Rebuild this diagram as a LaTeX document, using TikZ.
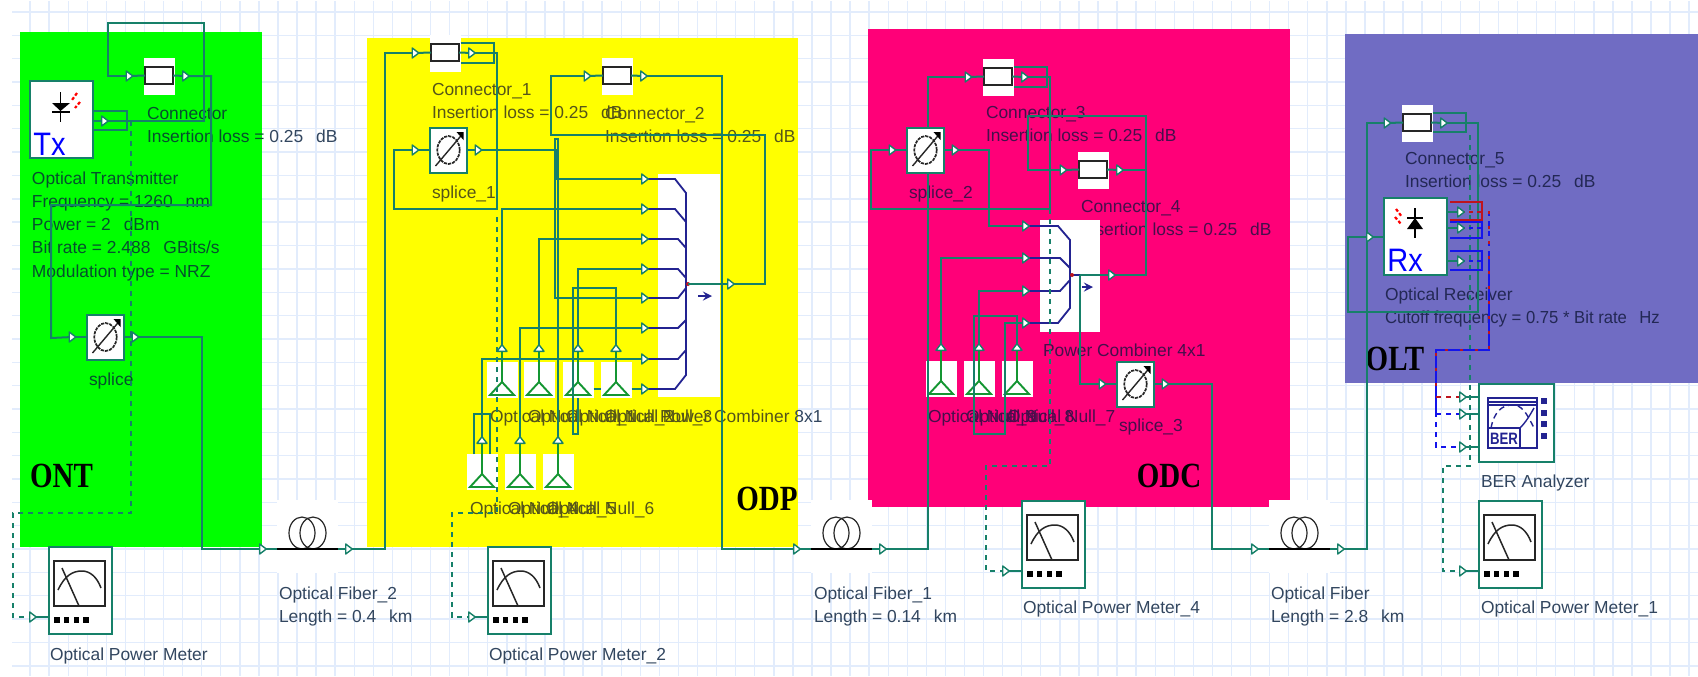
\documentclass[tikz,border=0pt]{standalone}
\usepackage{fontspec}
\setmainfont{Liberation Sans}
\newfontfamily\lserif{Liberation Serif}
\usetikzlibrary{calc}
\definecolor{teall}{RGB}{22,128,105}
\definecolor{nullg}{RGB}{20,150,50}
\definecolor{navyb}{RGB}{35,35,145}
\definecolor{gridc}{RGB}{226,236,252}
\definecolor{odcm}{RGB}{255,0,120}
\definecolor{oltp}{RGB}{112,108,195}
\definecolor{ontg}{RGB}{0,255,0}
\definecolor{odpy}{RGB}{255,255,0}
\definecolor{redd}{RGB}{190,20,30}
\definecolor{blued}{RGB}{20,20,235}
\definecolor{tg}{RGB}{5,80,45}
\definecolor{ty}{RGB}{85,85,25}
\definecolor{tm}{RGB}{70,15,75}
\definecolor{tp}{RGB}{35,40,85}
\definecolor{tw}{RGB}{50,70,95}
\newcommand{\gp}{\hspace{6.5pt}}
\pgfdeclarelayer{bg}\pgfdeclarelayer{wirel}\pgfsetlayers{bg,wirel,main}
\tikzset{
 wire/.style={draw=teall,line width=1pt},
 dashwire/.style={draw=teall,line width=.9pt,dash pattern=on 2.6pt off 2.4pt},
 portsh/.style={draw=teall,fill=white,line width=.7pt,line join=round},
 blank/.style={fill=white,draw=none,inner sep=0pt,outer sep=0pt},
 comp/.style={fill=white,draw=teall,line width=1pt,inner sep=0pt,outer sep=0pt},
 connrect/.style={fill=white,draw=black!85,line width=1.1pt,inner sep=0pt,outer sep=0pt,minimum width=14pt,minimum height=8.5pt},
 lab/.style={anchor=north west,inner sep=0pt,outer sep=0pt,align=left,font=\fontsize{8.7}{11.6}\selectfont},
 zone/.style={anchor=center,inner sep=0pt,text=black,font=\lserif\bfseries\fontsize{14.5}{16}\selectfont},
 combl/.style={draw=navyb,line width=.9pt},
 nullt/.style={draw=nullg,line width=.95pt},
}
\newcommand{\oPortR}[3]{\coordinate (#1) at (#2,#3);
 \draw[portsh] ([shift={(-3.3,-5)}]#1) -- ([shift={(3.3,0)}]#1) -- ([shift={(-3.3,5)}]#1) -- cycle;}
\newcommand{\oPortU}[3]{\coordinate (#1) at (#2,#3);
 \draw[portsh] ([shift={(-5,3.3)}]#1) -- ([shift={(0,-3.3)}]#1) -- ([shift={(5,3.3)}]#1) -- cycle;}
\newcommand{\oLbl}[5]{\node[lab,text=#4] (#1) at (#2,{#3-10}) {\strut #5};}
\newcommand{\oConn}[3]{%
 \begin{pgfonlayer}{bg}
 \node[blank,minimum width=15.5pt,minimum height=18.5pt] (#1-b) at (#2,#3) {};
 \node[connrect] (#1) at (#2,{#3-.5}) {};
 \end{pgfonlayer}
 \oPortR{#1-in}{#2-29.5}{#3}\oPortR{#1-out}{#2+27}{#3}
 \begin{pgfonlayer}{wirel}\draw[wire] (#1-in) -- (#1.west); \draw[wire] (#1.east) -- (#1-out);\end{pgfonlayer}}
\newcommand{\oSplice}[3]{%
 \node[comp,minimum width=18.5pt,minimum height=22.5pt] (#1) at (#2,#3) {};
 \draw[black!85,line width=.85pt,dash pattern=on 1.6pt off .5pt] (#2,#3) ellipse [x radius=5.6pt,y radius=7pt];
 \draw[black!85,line width=.7pt] ({#2-13},{#3+16}) -- ({#2+14},{#3-16});
 \fill[black] ({#2+15},{#3-18}) -- ({#2+15},{#3-10}) -- ({#2+8},{#3-18}) -- cycle;
 \oPortR{#1-in}{#2-33}{#3}\oPortR{#1-out}{#2+30}{#3}
 \begin{pgfonlayer}{wirel}\draw[wire] (#1-in) -- (#1.west); \draw[wire] (#1.east) -- (#1-out);\end{pgfonlayer}}
\newcommand{\oMeter}[3]{%
 \node[comp,minimum width=31.5pt,minimum height=43.5pt] (#1) at ({#2+31.5},{#3+43.5}) {};
 \draw[black!85,line width=1.1pt,fill=white] ({#2+5},{#3+14}) rectangle ({#2+56},{#3+59});
 \draw[black!85,line width=.75pt] ({#2+9},{#3+43}) .. controls ({#2+16},{#3+28}) and ({#2+24},{#3+24}) .. ({#2+33},{#3+24}) .. controls ({#2+41},{#3+24}) and ({#2+48},{#3+30}) .. ({#2+52},{#3+41});
 \draw[black!85,line width=.75pt] ({#2+13},{#3+21}) -- ({#2+30},{#3+59});
 \foreach \oa in {5,14.5,24.5,34}{\fill[black] ({#2+\oa},{#3+70}) rectangle ({#2+\oa+5.5},{#3+76});}
 \oPortR{#1-in}{#2-16}{#3+70}
 \begin{pgfonlayer}{wirel}\draw[wire] (#1-in) -- (#1-in -| #1.west);\end{pgfonlayer}}
\newcommand{\oNull}[3]{%
 \begin{pgfonlayer}{bg}
 \node[blank,minimum width=15.5pt,minimum height=18pt] (#1) at (#2,{#3+18}) {};
 \draw[nullt,line join=miter] (#2,{#3+20}) -- ({#2-12},{#3+33}) -- ({#2+12},{#3+33}) -- cycle;
 \draw[nullt] (#2,{#3+20}) -- (#2,{#3-14});
 \end{pgfonlayer}
 \oPortU{#1-in}{#2}{#3-14}}
\newcommand{\oFiber}[3]{%
 \begin{pgfonlayer}{bg}
 \node[blank,minimum width=30.5pt,minimum height=36.5pt] (#1) at ({#2+30.5},{#3-12.5}) {};
 \draw[black!85,line width=.6pt] ({#2+25},{#3-16}) ellipse [x radius=6.5pt,y radius=8pt];
 \draw[black!85,line width=.6pt] ({#2+36},{#3-16}) ellipse [x radius=6.5pt,y radius=8pt];
 \draw[black,line width=1pt] (#2,#3) -- ({#2+61},#3);
 \end{pgfonlayer}
 \oPortR{#1-in}{#2-14}{#3}\oPortR{#1-out}{#2+72}{#3}
 \begin{pgfonlayer}{wirel}\draw[wire] (#1-in) -- (#2,#3); \draw[wire] ({#2+61},#3) -- (#1-out);\end{pgfonlayer}}
\begin{document}
\begin{tikzpicture}[x=.5pt,y=-.5pt]
\useasboundingbox (0,0) rectangle (1698,676);
\begin{pgfonlayer}{bg}
\fill[white] (0,0) rectangle (1698,676);
\foreach \gi in {1,...,88}{\draw[gridc,line width=.7pt] ({11+19.07*\gi},1) -- ({11+19.07*\gi},676);}
\foreach \gi in {0,...,28}{\draw[gridc,line width=.7pt] (12,{12+23.35*\gi}) -- (1698,{12+23.35*\gi});}
% regions
\fill[ontg] (20,32) rectangle (262,547);
\fill[odpy] (367,38) rectangle (798,547);
\fill[odcm] (868,29) rectangle (1290,507);
\fill[oltp] (1345,34) rectangle (1698,383);
% region names
\node[zone] (ont) at (61.5,476) {\scalebox{1}[1.22]{ONT}};
\node[zone] (odp) at (767,499) {\scalebox{1}[1.22]{ODP}};
\node[zone] (odc) at (1169,476) {\scalebox{1}[1.22]{ODC}};
\node[zone] (olt) at (1395,359) {\scalebox{1}[1.22]{OLT}};
% labels
\oLbl{l0}{147}{113}{tg}{Connector\\Insertion loss = \textcolor{tw}{0.25\gp dB}}
\oLbl{l1}{32}{178}{tg}{Optical Transmitter\\Frequency = 1260\gp nm\\Power = 2\gp dBm\\Bit rate = 2.488\gp GBits/s\\Modulation type = NRZ}
\oLbl{l2}{89}{379}{tg}{splice}
\oLbl{l3}{279}{593}{tw}{Optical Fiber\_2\\Length = 0.4\gp km}
\oLbl{l4}{50}{654}{tw}{Optical Power Meter}
\oLbl{l5}{432}{89}{ty}{Connector\_1\\Insertion loss = 0.25\gp dB}
\oLbl{l6}{605}{113}{ty}{Connector\_2\\Insertion loss = 0.25\gp dB}
\oLbl{l7}{432}{192}{ty}{splice\_1}
\oLbl{l8}{490}{416}{ty}{Optical Null}
\oLbl{l9}{528}{416}{ty}{Optical Null\_1}
\oLbl{l10}{566}{416}{ty}{Optical Null\_2}
\oLbl{l11}{604}{416}{ty}{Optical Null\_3}
\oLbl{l12}{660}{416}{ty}{Power Combiner \textcolor{tw}{8x1}}
\oLbl{l13}{470}{508}{ty}{Optical Null\_4}
\oLbl{l14}{508}{508}{ty}{Optical Null\_5}
\oLbl{l15}{546}{508}{ty}{Optical Null\_6}
\oLbl{l16}{489}{654}{tw}{Optical Power Meter\_2}
\oLbl{l17}{814}{593}{tw}{Optical Fiber\_1\\Length = 0.14\gp km}
\oLbl{l18}{986}{112}{tm}{Connector\_3\\Insertion loss = 0.25\gp dB}
\oLbl{l19}{909}{192}{tm}{splice\_2}
\oLbl{l20}{1081}{206}{tm}{Connector\_4\\Insertion loss = 0.25\gp dB}
\oLbl{l21}{1043}{350}{tm}{Power Combiner 4x1}
\oLbl{l22}{928}{416}{tm}{Optical Null\_9}
\oLbl{l23}{966}{416}{tm}{Optical Null\_8}
\oLbl{l24}{1007}{416}{tm}{Optical Null\_7}
\oLbl{l25}{1119}{425}{tm}{splice\_3}
\oLbl{l26}{1023}{607}{tw}{Optical Power Meter\_4}
\oLbl{l27}{1271}{593}{tw}{Optical Fiber\\Length = 2.8\gp km}
\oLbl{l28}{1405}{158}{tp}{Connector\_5\\Insertion loss = 0.25\gp dB}
\oLbl{l29}{1385}{294}{tp}{Optical Receiver\\\scalebox{.958}[1]{Cutoff frequency = 0.75 * Bit rate\gp Hz}}
\oLbl{l30}{1481}{481}{tw}{BER Analyzer}
\oLbl{l31}{1481}{607}{tw}{Optical Power Meter\_1}
% combiner blanks
\node[blank,minimum width=31pt,minimum height=111.5pt] (cmb) at (689,285.5) {};
\node[blank,minimum width=30pt,minimum height=56pt] (cmf) at (1070,276) {};
\end{pgfonlayer}
% ---- components
\oConn{c0}{159}{76}
\oConn{c1}{445}{53}
\oConn{c2}{617}{76}
\oConn{c3}{998}{77}
\oConn{c4}{1093}{170}
\oConn{c5}{1417}{123}
\oSplice{s0}{105.5}{337}
\oSplice{s1}{448.5}{150}
\oSplice{s2}{925.5}{150}
\oSplice{s3}{1135.5}{384}
\oMeter{m0}{49}{547}
\oMeter{m2}{488}{547}
\oMeter{m4}{1022}{501}
\oMeter{m1}{1479}{501}
\oFiber{f2}{277}{549}
\oFiber{f1}{811}{549}
\oFiber{f0}{1269}{549}
\oNull{n0}{502}{362}
\oNull{n1}{539}{362}
\oNull{n2}{578}{362}
\oNull{n3}{616}{362}
\oNull{n4}{482}{454}
\oNull{n5}{520}{454}
\oNull{n6}{558}{454}
\oNull{n7}{941}{361}
\oNull{n8}{979}{361}
\oNull{n9}{1017}{361}
% Transmitter
\node[comp,minimum width=31.5pt,minimum height=38.5pt] (tx) at (61.5,119.5) {};
\draw[black,line width=.95pt] (60.5,92) -- (60.5,122);
\fill[black] (52,103) -- (70,103) -- (60.5,111) -- cycle;
\draw[black,line width=1.1pt] (52,112) -- (70,112);
\draw[red,line width=1.1pt,dash pattern=on 1.6pt off 1pt] (77,93) -- (72,100) (80,102) -- (75,108);
\node[anchor=base west,inner sep=0pt,text=blue,font=\fontsize{14.5}{16}\selectfont] (txt) at (33,155) {\scalebox{1}[1.12]{Tx}};
\oPortR{txout}{105}{121}
% Receiver
\node[comp,minimum width=31.5pt,minimum height=38.5pt] (rx) at (1415.5,236.5) {};
\draw[black,line width=.95pt] (1415,208) -- (1415,238);
\fill[black] (1407,229) -- (1423,229) -- (1415,218) -- cycle;
\draw[black,line width=1.1pt] (1407,218) -- (1423,218);
\draw[red,line width=1.1pt,dash pattern=on 1.6pt off 1pt] (1396,209) -- (1402,217) (1395,217) -- (1401,224);
\node[anchor=base west,inner sep=0pt,text=blue,font=\fontsize{14.5}{16}\selectfont] (rxt) at (1387,271) {\scalebox{1}[1.12]{Rx}};
\oPortR{rxin}{1370}{237}
\oPortR{rxo1}{1461}{212}
\oPortR{rxo2}{1461}{228}
\oPortR{rxo3}{1461}{261}
% BER analyzer
\node[comp,minimum width=37.5pt,minimum height=39pt] (ber) at (1516.5,423) {};
\draw[navyb,line width=.8pt] (1488,398) rectangle (1537,448);
\draw[navyb,line width=.6pt] (1488,402) -- (1537,402) (1488,405) -- (1537,405);
\draw[navyb,line width=.7pt,densely dashed] (1491,428) .. controls (1494,412) and (1502,405) .. (1512,405) .. controls (1522,405) and (1526,412) .. (1534,428);
\draw[navyb,line width=.7pt] (1520,428) .. controls (1526,422) and (1530,415) .. (1534,408);
\draw[navyb,line width=.8pt] (1488,428) -- (1520,428) -- (1520,448);
\node[inner sep=0pt,text=navyb,font=\bfseries\fontsize{6.6}{7}\selectfont] (bert) at (1504,438.5) {\scalebox{1}[1.25]{BER}};
\foreach \oy in {398,410,421,433}{\fill[navyb] (1541,\oy) rectangle (1547,{\oy+6});}
\oPortR{bp1}{1463}{397}
\oPortR{bp2}{1463}{414}
\oPortR{bp3}{1463}{447}
% combiner 8x1
\foreach \pn/\py in {1/179,2/209,3/239,4/269,5/298,6/328,7/359,8/389}{\oPortR{cp\pn}{645}{\py}}
\oPortR{cout}{731}{284}
\coordinate (cdot) at (688,284);
\begin{pgfonlayer}{bg}
\draw[combl] (cp1) -- (675,179) -- (686,193) -- (686,375) -- (675,389) -- (cp8);
\draw[combl] (cp2) -- (675,209) -- (686,222);
\draw[combl] (cp3) -- (678,239) -- (686,248);
\draw[combl] (cp4) -- (678,269) -- (686,278);
\draw[combl] (cp5) -- (678,298) -- (686,288);
\draw[combl] (cp6) -- (678,328) -- (686,320);
\draw[combl] (cp7) -- (678,359) -- (686,350);
\draw[combl] (cdot) -- (720,284);
\draw[navyb,line width=1pt,-stealth] (698,296) -- (712,296);
\fill[redd] (cdot) circle (1pt);
\end{pgfonlayer}
% combiner 4x1
\foreach \pn/\py in {1/226,2/258,3/291,4/323}{\oPortR{dp\pn}{1026}{\py}}
\oPortR{dout}{1112}{275}
\coordinate (ddot) at (1072,275);
\coordinate (dbr) at (1080,275);
\begin{pgfonlayer}{bg}
\draw[combl] (dp1) -- (1058,226) -- (1070,240) -- (1070,308) -- (1058,323) -- (dp4);
\draw[combl] (dp2) -- (1060,258) -- (1070,268);
\draw[combl] (dp3) -- (1060,291) -- (1070,280);
\draw[combl] (ddot) -- (dbr);
\draw[navyb,line width=1pt,-stealth] (1082,287) -- (1093,287);
\fill[redd] (ddot) circle (1pt);
\end{pgfonlayer}
% tap points
\coordinate (ta) at (131,121);
\coordinate (tb) at (497,217);
\coordinate (tc) at (1050,209);
\coordinate (td) at (1470,135);
\coordinate (busa) at (1489,211);
% ---- wires
\begin{pgfonlayer}{wirel}
\draw[wire] (c0-in) -| (108,23) -| (204,121) -- (txout);
\draw[wire] (c0-out) -| (211,205) -| (51,338) -- (s0-in);
\draw[wire] (tx.east |- txout) -- (txout);
\draw[wire] (tx.east |- 0,111) -- (127,111) -- (127,130) -- (tx.east |- 0,130);
\draw[dashwire] (ta) |- (13,513) |- (m0-in);
\draw[wire] (s0-out) -| (202,549) -- (f2-in);
\draw[wire] (f2-out) -| (385,53) -- (c1-in);
\draw[wire] (c1-b.east |- 0,43) -- (494,43) -- (494,63) -- (c1-b.east |- 0,63);
\draw[wire] (c1-out) -| (497,209) -| (394,150) -- (s1-in);
\draw[wire] (s1-out) -| (557,179) -- (cp1);
\draw[wire] (cp5) -| (555,139) -| (n6-in);
\draw[wire] (c2-in) -| (551,135) -| (765,284) -- (cout);
\draw[wire] (c2-out) -| (722,549) -- (f1-in);
\draw[wire] (cdot) -- (cout);
\draw[wire] (n0-in) |- (cp2);
\draw[wire] (n1-in) |- (cp3);
\draw[wire] (n2-in) |- (cp4);
\draw[wire] (n3-in) |- (573,288) |- (n2.south |- 0,434) -- (n2.south);
\draw[wire] (n5-in) |- (cp6);
\draw[wire] (n4-in) |- (cp7);
\draw[wire] (n2.east |- cp8) -- (n3.west |- cp8);
\draw[wire] (n3.east |- cp8) -- (cp8);
\draw[wire] (474,454) -- (474,414) -- (490,414) -- (490,454);
\draw[dashwire] (tb) |- (452,513) |- (m2-in);
\draw[wire] (f1-out) -| (928,77) -- (c3-in);
\draw[wire] (c3-b.east |- 0,67) -- (1047,67) -- (1047,87) -- (c3-b.east |- 0,87);
\draw[wire] (c3-out) -| (tc) -| (871,150) -- (s2-in);
\draw[wire] (s2-out) -| (989,226) -- (dp1);
\draw[wire] (c4-in) -| (1028,116) -| (1146,275) -- (dout);
\draw[wire] (c4-out) -- (1146,170);
\draw[wire] (dbr) -- (dout);
\draw[wire] (dbr) |- (s3-in);
\draw[wire] (s3-out) -| (1212,549) -- (f0-in);
\draw[dashwire] (tc) |- (986,466) |- (m4-in);
\draw[wire] (n7-in) |- (dp2);
\draw[wire] (n8-in) |- (dp3);
\draw[wire] (n9-in) |- (974,316) |- (1005,434) |- (dp4);
\draw[wire] (f0-out) -| (1367,123) -- (c5-in);
\draw[wire] (c5-b.east |- 0,113) -- (1466,113) -- (1466,132) -- (c5-b.east |- 0,132);
\draw[wire] (c5-out) -| (1478,312) -| (1348,237) -- (rxin);
\draw[wire] (rxin) -- (rx.west |- rxin);
\draw[wire] (rx.east |- rxo1) -- (rxo1);
\draw[wire] (rx.east |- rxo2) -- (rxo2);
\draw[wire] (rx.east |- rxo3) -- (rxo3);
\draw[dashwire] (td) |- (1443,466) |- (m1-in);
% Rx signal loops
\draw[draw=redd,line width=.95pt] (1450,202) -- (1482,202) -- (1482,220) -- (1450,220);
\draw[draw=blued,line width=.95pt] (1450,222) -- (1482,222) -- (1482,238) -- (1450,238);
\draw[draw=blued,line width=.95pt] (1450,251) -- (1482,251) -- (1482,270) -- (1450,270);
\draw[draw=redd,line width=.8pt,dash pattern=on 2pt off 2pt] (rxo1) -- (1482,212);
\draw[draw=blued,line width=.8pt,dash pattern=on 2pt off 2pt] (rxo2) -- (1482,228);
\draw[draw=blued,line width=.8pt,dash pattern=on 2pt off 2pt] (rxo3) -- (1482,261);
% bus to BER
\draw[draw=blued,line width=.9pt,dash pattern=on 2.5pt off 2.5pt] (busa) -- (1489,255);
\draw[draw=blued,line width=.9pt] (1489,255) |- (1436,350) -- (1436,412);
\draw[draw=redd,line width=.9pt,dash pattern=on 1.5pt off 6pt] (busa) |- (1436,350) -- (1436,397);
\draw[draw=blued,line width=.85pt,dash pattern=on 2.6pt off 2.4pt] (1436,412) |- (bp3);
\draw[draw=blued,line width=.85pt,dash pattern=on 2.6pt off 2.4pt] (1436,414) -- (bp2);
\draw[draw=redd,line width=.85pt,dash pattern=on 2.6pt off 2.4pt] (1436,397) -- (bp1);
\draw[wire] (bp1) -- (bp1 -| ber.west);
\draw[wire] (bp2) -- (bp2 -| ber.west);
\draw[wire] (bp3) -- (bp3 -| ber.west);
\end{pgfonlayer}
\end{tikzpicture}
\end{document}
